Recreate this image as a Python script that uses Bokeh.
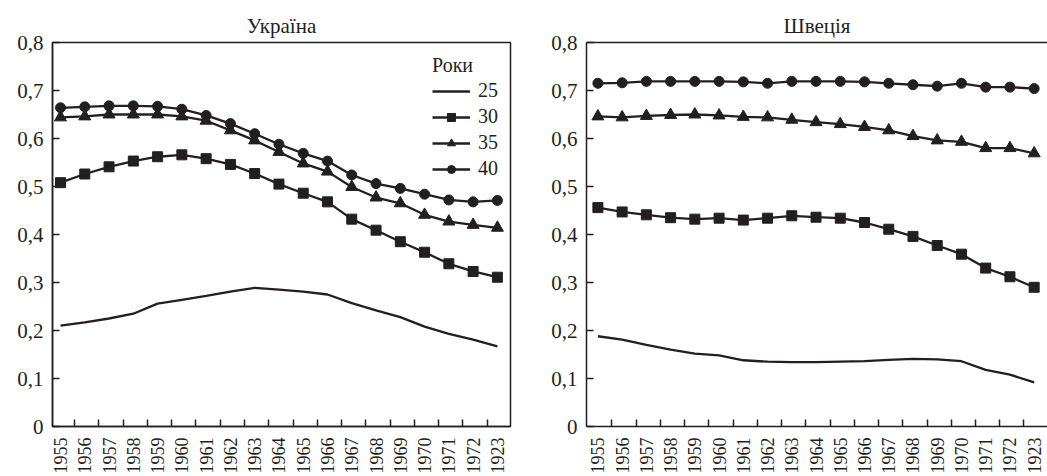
import math
from bokeh.plotting import figure
from bokeh.layouts import row
from bokeh.models import Range1d, FixedTicker, LinearAxis
from bokeh.embed import file_html
from bokeh.resources import INLINE

years = ["1955", "1956", "1957", "1958", "1959", "1960", "1961", "1962", "1963",
         "1964", "1965", "1966", "1967", "1968", "1969", "1970", "1971", "1972", "1923"]

ytick_vals = [0, 0.1, 0.2, 0.3, 0.4, 0.5, 0.6, 0.7, 0.8]
ytick_labels = ["0", "0,1", "0,2", "0,3", "0,4", "0,5", "0,6", "0,7", "0,8"]

series_names = ["25", "30", "35", "40"]

ukr_25 = [0.210, 0.217, 0.225, 0.235, 0.256, 0.264, 0.272, 0.281, 0.289, 0.285,
          0.281, 0.275, 0.257, 0.242, 0.228, 0.208, 0.193, 0.181, 0.167]
ukr_30 = [0.508, 0.526, 0.541, 0.553, 0.562, 0.566, 0.558, 0.546, 0.527, 0.505,
          0.486, 0.468, 0.432, 0.409, 0.385, 0.363, 0.339, 0.323, 0.311]
ukr_35 = [0.644, 0.646, 0.650, 0.650, 0.650, 0.646, 0.637, 0.617, 0.596, 0.572,
          0.548, 0.531, 0.499, 0.477, 0.465, 0.441, 0.427, 0.420, 0.414]
ukr_40 = [0.664, 0.666, 0.668, 0.668, 0.667, 0.661, 0.648, 0.631, 0.610, 0.588,
          0.569, 0.553, 0.524, 0.506, 0.496, 0.484, 0.472, 0.468, 0.471]

swe_25 = [0.188, 0.181, 0.170, 0.160, 0.152, 0.148, 0.138, 0.135, 0.134, 0.134,
          0.135, 0.136, 0.139, 0.141, 0.140, 0.136, 0.118, 0.108, 0.092]
swe_30 = [0.456, 0.447, 0.441, 0.435, 0.432, 0.434, 0.430, 0.434, 0.439, 0.436,
          0.434, 0.425, 0.411, 0.396, 0.377, 0.359, 0.330, 0.312, 0.290]
swe_35 = [0.646, 0.644, 0.647, 0.649, 0.650, 0.648, 0.645, 0.644, 0.639, 0.634,
          0.630, 0.624, 0.617, 0.605, 0.596, 0.593, 0.580, 0.580, 0.569]
swe_40 = [0.715, 0.716, 0.719, 0.719, 0.719, 0.719, 0.718, 0.715, 0.719, 0.719,
          0.719, 0.718, 0.715, 0.712, 0.709, 0.715, 0.707, 0.707, 0.704]

C = "#231f20"
FONT = "Liberation Serif"
xs = list(range(len(years)))


def make(title, data, xr, width, mbl, mbr, with_legend, full_outline):
    p = figure(width=width, height=476, x_range=Range1d(*xr), y_range=Range1d(0, 0.8),
               output_backend="svg", toolbar_location=None, title=title,
               min_border_left=mbl, min_border_right=mbr, min_border_top=42,
               min_border_bottom=49)
    p.title.text_font = FONT
    p.title.text_font_size = "21px"
    p.title.text_font_style = "normal"
    p.title.align = "center"
    p.title.text_color = C
    p.title.standoff = 10
    p.grid.visible = False
    p.background_fill_color = "white"
    p.border_fill_color = "white"

    d25, d30, d35, d40 = data

    def lg(name):
        return {"legend_label": name} if with_legend else {}

    p.line(xs, d25, line_color=C, line_width=2.3, **lg(series_names[0]))
    p.line(xs, d30, line_color=C, line_width=2.3, **lg(series_names[1]))
    p.scatter(xs, d30, marker="square", size=10, fill_color=C, line_color=C, **lg(series_names[1]))
    p.line(xs, d35, line_color=C, line_width=2.3, **lg(series_names[2]))
    p.scatter(xs, d35, marker="triangle", size=12, fill_color=C, line_color=C, **lg(series_names[2]))
    p.line(xs, d40, line_color=C, line_width=2.3, **lg(series_names[3]))
    p.scatter(xs, d40, marker="circle", size=10, fill_color=C, line_color=C, **lg(series_names[3]))

    xa = p.below[0]
    xa.ticker = FixedTicker(ticks=xs, minor_ticks=[i + 0.58 for i in range(len(years) - 1)])
    xa.major_label_overrides = {i: y for i, y in enumerate(years)}
    xa.major_label_orientation = math.pi / 2
    xa.major_label_text_font = FONT
    xa.major_label_text_font_size = "18px"
    xa.major_label_text_color = C
    xa.major_label_standoff = 5
    xa.major_tick_line_color = None
    xa.minor_tick_line_color = C
    xa.minor_tick_line_width = 1.5
    xa.minor_tick_in = 7
    xa.minor_tick_out = 0
    xa.axis_line_color = C
    xa.axis_line_width = 1.5

    ya = p.left[0]
    ya.ticker = FixedTicker(ticks=ytick_vals)
    ya.major_label_overrides = {v: s for v, s in zip(ytick_vals, ytick_labels)}
    ya.major_label_text_font = FONT
    ya.major_label_text_font_size = "21px"
    ya.major_label_text_color = C
    ya.major_label_standoff = 9
    ya.major_tick_line_color = C
    ya.major_tick_line_width = 1.5
    ya.major_tick_in = 7
    ya.major_tick_out = 0
    ya.minor_tick_line_color = None
    ya.axis_line_color = C
    ya.axis_line_width = 1.5

    if full_outline:
        p.outline_line_color = C
        p.outline_line_width = 1.5
    else:
        p.outline_line_color = None
        top = LinearAxis(ticker=FixedTicker(ticks=[]), axis_line_color=C, axis_line_width=1.5,
                         major_tick_line_color=None, minor_tick_line_color=None,
                         major_label_text_font_size="0px", major_label_standoff=0,
                         major_tick_in=0, major_tick_out=0)
        p.add_layout(top, "above")

    if with_legend:
        lgd = p.legend[0]
        lgd.location = "top_right"
        lgd.title = "Роки"
        lgd.title_text_font = FONT
        lgd.title_text_font_size = "20px"
        lgd.title_text_font_style = "normal"
        lgd.title_text_color = C
        lgd.title_standoff = 2
        lgd.label_text_font = FONT
        lgd.label_text_font_size = "20px"
        lgd.label_text_color = C
        lgd.glyph_width = 38
        lgd.glyph_height = 20
        lgd.label_height = 20
        lgd.label_standoff = 8
        lgd.spacing = 3
        lgd.padding = 0
        lgd.margin = 12
        lgd.border_line_color = None
        lgd.background_fill_alpha = 0
    return p


p1 = make("Україна", (ukr_25, ukr_30, ukr_35, ukr_40), (-0.33, 18.54), 520, 52, 10, True, True)
p2 = make("Швеція", (swe_25, swe_30, swe_35, swe_40), (-0.47, 18.55), 527, 66, 0, False, False)

layout = row(p1, p2)
open("out.html", "w").write(file_html(layout, INLINE))
